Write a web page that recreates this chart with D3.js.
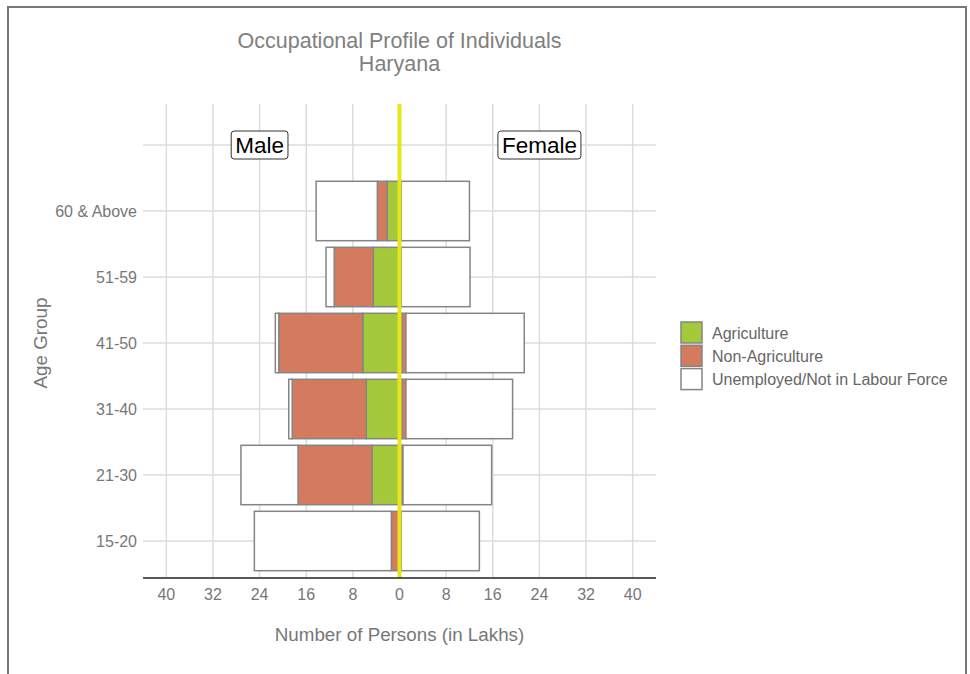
<!DOCTYPE html>
<html lang="en">

<head>
    <meta charset="UTF-8">
    <title>Occupational Profile of Individuals - Haryana</title>
    <script src="https://d3js.org/d3.v7.min.js"></script>
    <style>
        body {
            margin: 0;
            background: #fff;
        }

        svg text {
            font-family: "Liberation Sans", Arial, sans-serif;
        }
    </style>
</head>

<body>
    <div id="chart"></div>

    <script>
        const width = 970;
        const height = 674;

        // data (lakhs of persons)
        const ageGroups = ["15-20", "21-30", "31-40", "41-50", "51-59", "60 & Above"];
        const maleAgri = [0.1, 4.7, 5.7, 6.3, 4.5, 2.1];
        const maleNonAgri = [1.3, 12.7, 12.7, 14.4, 6.7, 1.7];
        const maleUnemp = [23.5, 9.8, 0.6, 0.6, 1.4, 10.5];
        const femaleAgri = [0.1, 0.2, 0.4, 0.4, 0.2, 0.2];
        const femaleNonAgri = [0.2, 0.4, 0.7, 0.7, 0.1, 0.1];
        const femaleUnemp = [13.4, 15.2, 18.3, 20.3, 11.8, 11.7];
        const xTicks = [-40, -32, -24, -16, -8, 0, 8, 16, 24, 32, 40];
        const categories = ["Agriculture", "Non-Agriculture", "Unemployed/Not in Labour Force"];
        const colors = ["#a4c93b", "#d47a5e", "#ffffff"];

        const panel = { left: 143, right: 656, top: 104, bottom: 578 };

        const svg = d3.select("#chart")
            .append("svg")
            .attr("width", width)
            .attr("height", height);

        // outer frame
        svg.append("path")
            .attr("d", `M8,${height} L8,7 L966,7 L966,${height}`)
            .attr("fill", "none")
            .attr("stroke", "#777")
            .attr("stroke-width", 2);

        const x = d3.scaleLinear().domain([-44, 44]).range([panel.left, panel.right]);
        const y = d3.scalePoint()
            .domain([...ageGroups, ""])
            .range([541, 145]);
        const barH = y.step() * 0.9;

        // grid
        svg.append("g")
            .selectAll("line")
            .data(xTicks)
            .join("line")
            .attr("x1", d => x(d))
            .attr("x2", d => x(d))
            .attr("y1", panel.top)
            .attr("y2", panel.bottom)
            .attr("stroke", "#dcdcdc")
            .attr("stroke-width", 1.5);

        svg.append("g")
            .selectAll("line")
            .data(y.domain())
            .join("line")
            .attr("x1", panel.left)
            .attr("x2", panel.right)
            .attr("y1", d => y(d))
            .attr("y2", d => y(d))
            .attr("stroke", "#dcdcdc")
            .attr("stroke-width", 1.5);

        // stacked bars
        const rows = [];
        ageGroups.forEach((g, i) => {
            const male = [maleAgri[i], maleNonAgri[i], maleUnemp[i]];
            const female = [femaleAgri[i], femaleNonAgri[i], femaleUnemp[i]];
            let m = 0, f = 0;
            male.forEach((v, k) => {
                rows.push({ group: g, cat: k, x0: -(m + v), x1: -m });
                m += v;
            });
            female.forEach((v, k) => {
                rows.push({ group: g, cat: k, x0: f, x1: f + v });
                f += v;
            });
        });

        svg.append("g")
            .selectAll("rect")
            .data(rows)
            .join("rect")
            .attr("x", d => x(d.x0))
            .attr("width", d => x(d.x1) - x(d.x0))
            .attr("y", d => y(d.group) - barH / 2)
            .attr("height", barH)
            .attr("fill", d => colors[d.cat])
            .attr("stroke", "#858585")
            .attr("stroke-width", 1.5);

        // zero line
        svg.append("line")
            .attr("x1", x(0))
            .attr("x2", x(0))
            .attr("y1", panel.top)
            .attr("y2", panel.bottom)
            .attr("stroke", "#e6e619")
            .attr("stroke-width", 4);

        // bottom axis
        svg.append("line")
            .attr("x1", panel.left)
            .attr("x2", panel.right)
            .attr("y1", panel.bottom)
            .attr("y2", panel.bottom)
            .attr("stroke", "#222")
            .attr("stroke-width", 1.5);

        svg.append("g")
            .selectAll("text")
            .data(xTicks)
            .join("text")
            .attr("x", d => x(d))
            .attr("y", 600)
            .attr("text-anchor", "middle")
            .attr("font-size", 16)
            .attr("fill", "#777")
            .text(d => Math.abs(d));

        svg.append("g")
            .selectAll("text")
            .data(ageGroups)
            .join("text")
            .attr("x", 137)
            .attr("y", d => y(d) + 5.5)
            .attr("text-anchor", "end")
            .attr("font-size", 16)
            .attr("fill", "#777")
            .text(d => d);

        // axis titles
        svg.append("text")
            .attr("x", x(0))
            .attr("y", 641)
            .attr("text-anchor", "middle")
            .attr("font-size", 18.8)
            .attr("fill", "#777")
            .text("Number of Persons (in Lakhs)");

        svg.append("text")
            .attr("transform", `translate(47, ${(panel.top + panel.bottom) / 2 + 2}) rotate(-90)`)
            .attr("text-anchor", "middle")
            .attr("font-size", 18.8)
            .attr("fill", "#777")
            .text("Age Group");

        // title
        svg.append("text")
            .attr("x", x(0))
            .attr("y", 48)
            .attr("text-anchor", "middle")
            .attr("font-size", 21.5)
            .attr("fill", "#808080")
            .text("Occupational Profile of Individuals");

        svg.append("text")
            .attr("x", x(0))
            .attr("y", 71)
            .attr("text-anchor", "middle")
            .attr("font-size", 21.5)
            .attr("fill", "#808080")
            .text("Haryana");

        // side labels
        [{ v: -24, t: "Male" }, { v: 24, t: "Female" }].forEach(s => {
            const g = svg.append("g");
            const txt = g.append("text")
                .attr("x", x(s.v))
                .attr("y", y("") + 8)
                .attr("text-anchor", "middle")
                .attr("font-size", 22.5)
                .attr("fill", "#000")
                .text(s.t);
            const bb = txt.node().getBBox();
            g.insert("rect", "text")
                .attr("x", bb.x - 4)
                .attr("y", y("") - 14)
                .attr("width", bb.width + 8)
                .attr("height", 28)
                .attr("rx", 3)
                .attr("fill", "#fff")
                .attr("stroke", "#333")
                .attr("stroke-width", 1);
        });

        // legend
        const legend = svg.append("g")
            .attr("transform", "translate(681, 322)");

        legend.selectAll("rect")
            .data(categories)
            .join("rect")
            .attr("x", 0)
            .attr("y", (d, i) => i * 23.3)
            .attr("width", 21)
            .attr("height", 21)
            .attr("fill", (d, i) => colors[i])
            .attr("stroke", "#858585")
            .attr("stroke-width", 1.5);

        legend.selectAll("text")
            .data(categories)
            .join("text")
            .attr("x", 31)
            .attr("y", (d, i) => i * 23.3 + 16.5)
            .attr("font-size", 16)
            .attr("fill", "#666")
            .text(d => d);
    </script>
</body>

</html>
